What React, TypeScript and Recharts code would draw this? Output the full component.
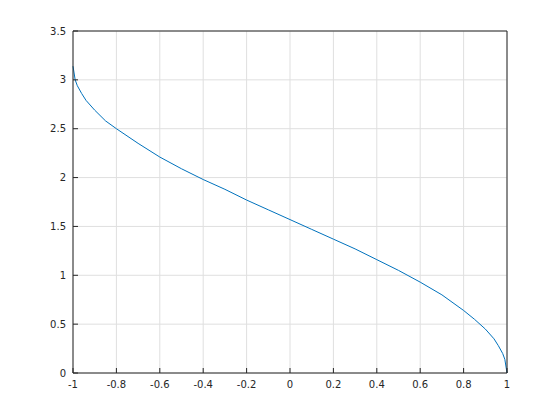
import { LineChart, Line, XAxis, YAxis, CartesianGrid } from 'recharts';

// values
const xValues = [
  -1, -0.99, -0.98, -0.96, -0.94, -0.9, -0.85, -0.8, -0.7, -0.6, -0.5, -0.4, -0.3, -0.2, -0.1,
  0, 0.1, 0.2, 0.3, 0.4, 0.5, 0.6, 0.7, 0.8, 0.85, 0.9, 0.94, 0.96, 0.98, 0.99, 1,
];
const yValues = [
  3.14, 3.0, 2.94, 2.86, 2.79, 2.69, 2.58, 2.5, 2.35, 2.21, 2.09, 1.98, 1.88, 1.77, 1.67,
  1.57, 1.47, 1.37, 1.27, 1.16, 1.05, 0.93, 0.8, 0.64, 0.55, 0.45, 0.35, 0.28, 0.2, 0.14, 0,
];
const xTicks = [-1, -0.8, -0.6, -0.4, -0.2, 0, 0.2, 0.4, 0.6, 0.8, 1];
const xTickLabels = ['-1', '-0.8', '-0.6', '-0.4', '-0.2', '0', '0.2', '0.4', '0.6', '0.8', '1'];
const yTicks = [0, 0.5, 1, 1.5, 2, 2.5, 3, 3.5];
const yTickLabels = ['0', '0.5', '1', '1.5', '2', '2.5', '3', '3.5'];

const data = xValues.map((x, i) => ({ x, y: yValues[i] }));

const axisColor = '#262626';
const tickFont = { fontSize: 10, fill: axisColor, fontFamily: 'DejaVu Sans' };

export default function App() {
  return (
    <div style={{ position: 'absolute', left: 0, top: 0, width: 560, height: 420, background: '#fff' }}>
      <LineChart width={560} height={420} data={data} margin={{ top: 30, right: 52, bottom: 27, left: 0 }}>
        <CartesianGrid stroke="#dfdfdf" strokeWidth={1} />
        <XAxis
          dataKey="x"
          type="number"
          domain={[-1, 1]}
          ticks={xTicks}
          tickFormatter={(v: number) => xTickLabels[xTicks.indexOf(v)] ?? String(v)}
          height={20}
          tickSize={-5}
          tickMargin={13}
          stroke={axisColor}
          tick={tickFont}
          interval={0}
        />
        <XAxis
          xAxisId="top"
          dataKey="x"
          type="number"
          orientation="top"
          domain={[-1, 1]}
          ticks={xTicks}
          height={1}
          tickSize={-5}
          tick={false}
          stroke={axisColor}
          interval={0}
        />
        <YAxis
          type="number"
          domain={[0, 3.5]}
          ticks={yTicks}
          tickFormatter={(v: number) => yTickLabels[yTicks.indexOf(v)] ?? String(v)}
          width={73}
          tickSize={-5}
          tickMargin={12}
          stroke={axisColor}
          tick={tickFont}
          interval={0}
        />
        <YAxis
          yAxisId="right"
          type="number"
          orientation="right"
          domain={[0, 3.5]}
          ticks={yTicks}
          width={1}
          tickSize={-5}
          tick={false}
          stroke={axisColor}
          interval={0}
        />
        <Line
          type="linear"
          dataKey="y"
          stroke="#0072bd"
          strokeWidth={1}
          dot={false}
          isAnimationActive={false}
        />
      </LineChart>
    </div>
  );
}
